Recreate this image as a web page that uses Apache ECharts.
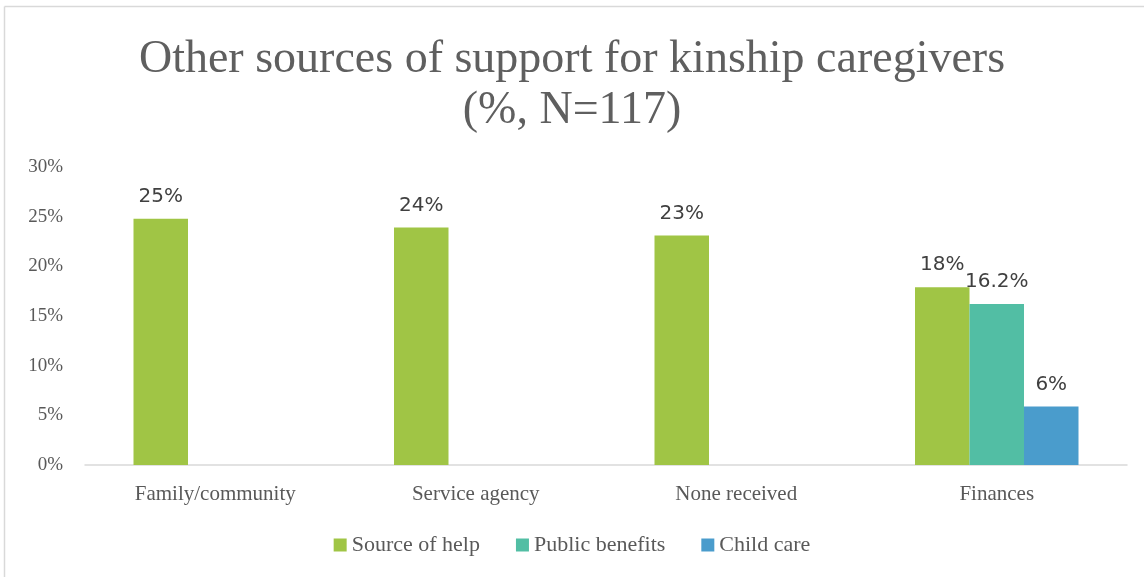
<!DOCTYPE html>
<html>
<head>
<meta charset="utf-8">
<script src="https://cdn.jsdelivr.net/npm/echarts@6/dist/echarts.min.js"></script>
<style>
html,body{margin:0;padding:0;background:#fff;}
#c{width:1144px;height:577px;}
</style>
</head>
<body>
<div id="c"></div>
<script>
const categories = ['Family/community', 'Service agency', 'None received', 'Finances'];
const sourceOfHelp = [24.8, 23.9, 23.1, 17.9];
const publicBenefits = [null, null, null, 16.2];
const childCare = [null, null, null, 5.9];
const yTicks = [0, 5, 10, 15, 20, 25, 30];
const seriesNames = ['Source of help', 'Public benefits', 'Child care'];

const serif = '"Liberation Serif", "DejaVu Serif", serif';
const labelStyle = (dec) => ({
  show: true, position: 'top', distance: 12,
  fontFamily: '"DejaVu Sans", sans-serif', fontSize: 20, color: '#404040',
  formatter: p => p.value == null ? '' : p.value.toFixed(dec) + '%'
});

const chart = echarts.init(document.getElementById('c'), null, {renderer: 'canvas'});
chart.setOption({
  animation: false,
  backgroundColor: '#fff',
  title: {
    text: 'Other sources of support for kinship caregivers\n(%, N=117)',
    left: 'center', top: 29,
    textStyle: {fontFamily: serif, fontWeight: 'normal', fontSize: 46, color: '#5f5f5f', lineHeight: 51}
  },
  graphic: [
    {type: 'line', shape: {x1: 4.5, y1: 6.5, x2: 1144, y2: 6.5}, style: {stroke: '#d9d9d9', lineWidth: 1.5}},
    {type: 'line', shape: {x1: 4.5, y1: 6.5, x2: 4.5, y2: 577}, style: {stroke: '#d9d9d9', lineWidth: 1.5}}
  ],
  legend: {
    bottom: 16, left: 'center', itemWidth: 13, itemHeight: 13, itemGap: 36,
    icon: 'rect',
    textStyle: {fontFamily: serif, fontSize: 22, color: '#595959'},
    data: seriesNames
  },
  grid: {left: 85, right: 17, top: 167, bottom: 112, containLabel: false},
  xAxis: {
    type: 'category', data: categories,
    axisLine: {lineStyle: {color: '#d9d9d9', width: 1.5}},
    axisTick: {show: false},
    axisLabel: {fontFamily: serif, fontSize: 21, color: '#595959', margin: 19}
  },
  yAxis: {
    type: 'value', min: yTicks[0], max: yTicks[yTicks.length - 1], interval: 5,
    axisLine: {show: false}, axisTick: {show: false}, splitLine: {show: false},
    axisLabel: {fontFamily: serif, fontSize: 19, color: '#595959', margin: 22, formatter: v => v + '%'}
  },
  series: [
    {name: seriesNames[0], type: 'bar', data: sourceOfHelp, barWidth: 54.5, barGap: '0%', barCategoryGap: '37.3%',
     itemStyle: {color: '#A0C545'}, label: labelStyle(0)},
    {name: seriesNames[1], type: 'bar', data: publicBenefits, barWidth: 54.5, barGap: '0%',
     itemStyle: {color: '#52BEA4'}, label: labelStyle(1)},
    {name: seriesNames[2], type: 'bar', data: childCare, barWidth: 54.5, barGap: '0%',
     itemStyle: {color: '#4A9CCC'}, label: labelStyle(0)}
  ]
});
</script>
</body>
</html>
